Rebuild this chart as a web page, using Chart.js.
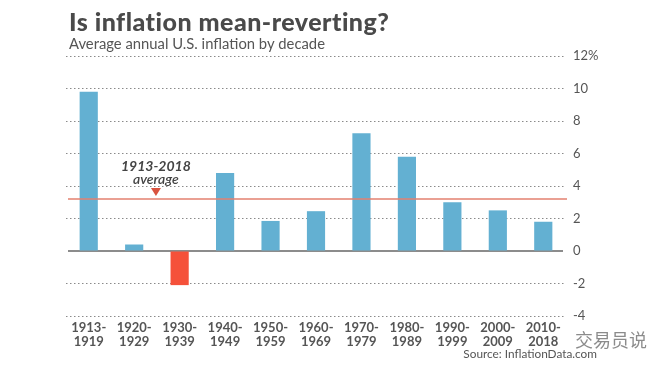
<!DOCTYPE html>
<html>
<head>
<meta charset="utf-8">
<script src="https://cdn.jsdelivr.net/npm/chart.js@4.4.1/dist/chart.umd.min.js"></script>
<style>
html,body{margin:0;padding:0;background:#fff;}
#wrap{position:relative;width:660px;height:371px;}
</style>
</head>
<body>
<div id="wrap"><canvas id="c" width="660" height="371"></canvas></div>
<script>
const categories = [["1913-","1919"],["1920-","1929"],["1930-","1939"],["1940-","1949"],["1950-","1959"],["1960-","1969"],["1970-","1979"],["1980-","1989"],["1990-","1999"],["2000-","2009"],["2010-","2018"]];
const inflation = [9.8, 0.4, -2.1, 4.8, 1.85, 2.45, 7.25, 5.8, 3.0, 2.5, 1.8];
const averageValue = 3.2;
const yTicks = [-4, -2, 0, 2, 4, 6, 8, 10, 12];
const titleText = "Is inflation mean-reverting?";
const subtitleText = "Average annual U.S. inflation by decade";
const annotationLines = ["1913-2018", "average"];
const sourceText = "Source: InflationData.com";
const watermarkText = "交易员说";

const BLUE = "#63b0d2";
const RED = "#f5513a";

function fitText(ctx, text, x, y, targetWidth) {
  ctx.letterSpacing = "0px";
  const w = ctx.measureText(text).width;
  const extra = (targetWidth - w) / Math.max(1, text.length - 1);
  ctx.letterSpacing = extra.toFixed(2) + "px";
  ctx.fillText(text, x, y);
  ctx.letterSpacing = "0px";
}

const deco = {
  id: "deco",
  beforeDatasetsDraw(chart) {
    const {ctx, chartArea: a, scales: {y}} = chart;
    ctx.save();
    const y0 = y.getPixelForValue(0);
    ctx.strokeStyle = "#666";
    ctx.lineWidth = 1.5;
    ctx.beginPath(); ctx.moveTo(a.left + 2, y0); ctx.lineTo(a.right - 3, y0); ctx.stroke();
    ctx.restore();
  },
  afterDatasetsDraw(chart) {
    const {ctx, chartArea: a, scales: {x, y}} = chart;
    ctx.save();
    const ya = y.getPixelForValue(averageValue);
    ctx.strokeStyle = "#e3806f";
    ctx.lineWidth = 1.5;
    ctx.beginPath(); ctx.moveTo(a.left + 2, ya); ctx.lineTo(a.right + 1, ya); ctx.stroke();
    // annotation
    const cx = (x.getPixelForValue(1) + x.getPixelForValue(2)) / 2 - 1;
    ctx.fillStyle = "#444";
    ctx.textAlign = "center";
    ctx.textBaseline = "alphabetic";
    ctx.font = "italic bold 14px Lato";
    ctx.fillText(annotationLines[0], cx, 171);
    ctx.font = "italic 600 14px Lato";
    ctx.fillText(annotationLines[1], cx, 184);
    ctx.fillStyle = "#d9533f";
    ctx.beginPath();
    ctx.moveTo(cx - 5, 188); ctx.lineTo(cx + 5, 188); ctx.lineTo(cx, 196); ctx.closePath(); ctx.fill();
    // title
    ctx.textAlign = "left";
    ctx.fillStyle = "#4a4a4a";
    ctx.font = "900 25px Lato";
    fitText(ctx, titleText, 69, 31, 321);
    ctx.fillStyle = "#555";
    ctx.font = "14.8px Lato";
    ctx.fillText(subtitleText, 69, 49);
    // source
    ctx.font = "11.8px Lato";
    ctx.fillStyle = "#555";
    ctx.textAlign = "right";
    ctx.fillText(sourceText, 597, 358);
    // watermark
    ctx.font = "18px 'Noto Sans CJK SC'";
    ctx.fillStyle = "rgba(90,90,90,0.7)";
    ctx.textAlign = "left";
    ctx.fillText(watermarkText, 575, 347);
    ctx.restore();
  }
};

new Chart(document.getElementById("c"), {
  type: "bar",
  data: {
    labels: categories,
    datasets: [{
      data: inflation,
      backgroundColor: inflation.map(v => v < 0 ? RED : BLUE),
      barPercentage: 0.4,
      categoryPercentage: 1.0
    }]
  },
  options: {
    responsive: false,
    animation: false,
    events: [],
    layout: { padding: { left: 66, right: 58, top: 56, bottom: 10 } },
    plugins: { legend: { display: false }, tooltip: { enabled: false } },
    scales: {
      x: {
        grid: { display: false },
        border: { display: false },
        ticks: {
          color: "#555",
          font: { family: "Lato", size: 13, weight: "bold", lineHeight: 1.05 },
          padding: -3,
          maxRotation: 0,
          autoSkip: false
        },
        afterFit(s) { s.height = 45; }
      },
      y: {
        position: "right",
        min: -4, max: 12,
        afterBuildTicks(s) { s.ticks = yTicks.map(v => ({ value: v })); },
        grid: {
          color: ctx => ctx.tick && ctx.tick.value === 0 ? "rgba(0,0,0,0)" : "#8a8a8a",
          lineWidth: 1,
          drawTicks: false
        },
        border: { display: false, dash: [1.5, 2.5] },
        ticks: {
          color: "#555",
          font: { family: "Lato", size: 13 },
          padding: 7,
          callback: v => v === 12 ? v + "%" : String(v)
        },
        afterFit(s) { s.width = 36; }
      }
    }
  },
  plugins: [deco]
});
</script>
</body>
</html>
